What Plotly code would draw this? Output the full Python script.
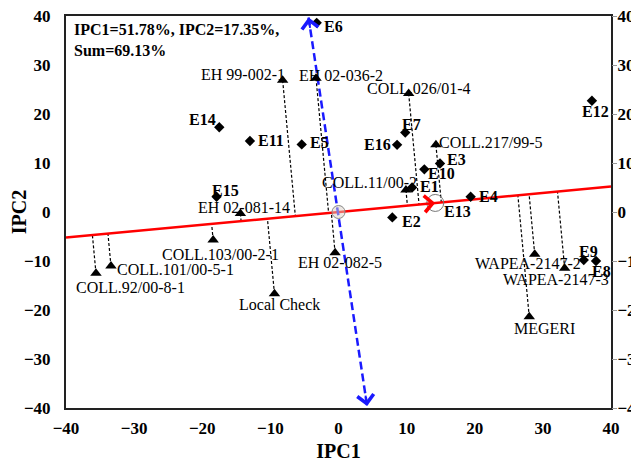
import plotly.graph_objects as go

# ---------------- data ----------------
env_names = ["E1", "E2", "E3", "E4", "E5", "E6", "E7", "E8", "E9", "E10",
             "E11", "E12", "E14", "E15", "E16"]
env_x = [10.8, 7.9, 14.9, 19.4, -5.4, -3.2, 9.8, 37.8, 36.0, 12.6,
         -13.0, 37.2, -17.5, -17.9, 8.6]
env_y = [5.0, -1.1, 9.9, 3.1, 13.8, 38.6, 16.2, -10.0, -9.8, 8.7,
         14.5, 22.7, 17.3, 3.1, 13.7]

ideal_env_name = "E13"
ideal_env_x = 14.2
ideal_env_y = 1.85

gen_names = ["EH 99-002-1", "EH 02-036-2", "COLL.026/01-4", "COLL.217/99-5",
             "COLL.11/00-2", "EH 02-081-14", "COLL.103/00-2-1", "COLL.101/00-5-1",
             "COLL.92/00-8-1", "Local Check", "EH 02-082-5", "WAPEA-2147-2",
             "WAPEA-2147-3", "MEGERI"]
gen_x = [-8.2, -3.3, 10.3, 14.3, 9.9, -14.4, -18.4, -33.4, -35.6, -9.4, -0.5, 28.8, 33.2, 28.0]
gen_y = [26.9, 27.3, 24.2, 13.7, 4.5, -0.3, -5.7, -11.0, -12.5, -16.7, -8.3, -8.6, -11.5, -21.4]

aec_x = [-40, 40]       # average environment coordinate abscissa (red)
aec_y = [-5.2, 5.2]
ord_x = [-4.4, 4.2]     # ordinate (blue dashed)
ord_y = [39.7, -39.6]

axis_ticks = [-40, -30, -20, -10, 0, 10, 20, 30, 40]
summary_text = "IPC1=51.78%, IPC2=17.35%,<br>Sum=69.13%"

# ---------------- layout geometry / styles ----------------
# page body has an 8px default margin, so the figure is made 8px smaller
W, H = 631, 454
ML, MR, MT, MB = 58, 28, 8, 54
PW, PH = W - ML - MR, H - MT - MB
SX, SY = PW / 80.0, PH / 80.0   # px per data unit
SERIF = "Liberation Serif"

env_lbl = {  # (xanchor, dx, dy) in px, dy positive = down
    "E1": ("left", 6, -1), "E2": ("left", 8, 4), "E3": ("left", 5, -4),
    "E4": ("left", 6, 0), "E5": ("left", 6, -2), "E6": ("left", 5, 4),
    "E7": ("center", 6, -8), "E8": ("center", 5, 10), "E9": ("center", 5, -9),
    "E10": ("left", 2, 4), "E11": ("left", 6, 0), "E12": ("center", 4, 11),
    "E14": ("right", -1, -8), "E15": ("center", 9, -6), "E16": ("right", -4, 0),
    "E13": ("left", 7, 9),
}
gen_lbl = {
    "EH 99-002-1": ("right", 4, -6), "EH 02-036-2": ("left", -19, -3),
    "COLL.026/01-4": ("center", 10, -5), "COLL.217/99-5": ("left", 1, -2),
    "COLL.11/00-2": ("center", -36, -7), "EH 02-081-14": ("center", 4, -6),
    "COLL.103/00-2-1": ("center", 7, 15), "COLL.101/00-5-1": ("left", 4, 4),
    "COLL.92/00-8-1": ("center", 35, 14), "Local Check": ("center", 5, 11),
    "EH 02-082-5": ("center", 5, 10), "WAPEA-2147-2": ("center", -7, 9),
    "WAPEA-2147-3": ("center", -9, 11), "MEGERI": ("center", 15, 12),
}

fig = go.Figure()

# projection lines (perpendicular in display space) onto red axis
dx_l = (aec_x[1] - aec_x[0]) * SX
dy_l = (aec_y[1] - aec_y[0]) * SY
nrm = (dx_l ** 2 + dy_l ** 2) ** 0.5
ux, uy = dx_l / nrm, dy_l / nrm
for gx, gy in zip(gen_x, gen_y):
    px = (gx - aec_x[0]) * SX
    py = (gy - aec_y[0]) * SY
    t = px * ux + py * uy
    fx = aec_x[0] + t * ux / SX
    fy = aec_y[0] + t * uy / SY
    fig.add_trace(go.Scatter(x=[gx, fx], y=[gy, fy], mode="lines",
                             line=dict(color="black", width=1.2, dash="3px,2px"),
                             hoverinfo="skip", showlegend=False))

# red AEC line
fig.add_trace(go.Scatter(x=aec_x, y=aec_y, mode="lines",
                         line=dict(color="#ff0000", width=2.5), showlegend=False))
# blue ordinate
fig.add_trace(go.Scatter(x=ord_x, y=ord_y, mode="lines",
                         line=dict(color="#1a1aff", width=2.5, dash="8px,4px"), showlegend=False))

# origin circle and ideal environment circle
fig.add_trace(go.Scatter(x=[0], y=[0], mode="markers",
                         marker=dict(symbol="circle", size=13, color="rgba(220,210,200,0.5)",
                                     line=dict(color="#888888", width=1)), showlegend=False))
fig.add_trace(go.Scatter(x=[ideal_env_x], y=[ideal_env_y], mode="markers",
                         marker=dict(symbol="circle-open", size=17, color="#777777",
                                     line=dict(width=1)), showlegend=False))

# environments
fig.add_trace(go.Scatter(x=env_x, y=env_y, mode="markers",
                         marker=dict(symbol="diamond", size=8, color="black"), showlegend=False))
# genotypes
fig.add_trace(go.Scatter(x=gen_x, y=gen_y, mode="markers",
                         marker=dict(symbol="triangle-up", size=10, color="black"), showlegend=False))

# right axis helper
fig.add_trace(go.Scatter(x=[0], y=[0], yaxis="y2", mode="markers",
                         marker=dict(opacity=0), hoverinfo="skip", showlegend=False))

ann = []
for n, x, y in zip(env_names + [ideal_env_name], env_x + [ideal_env_x], env_y + [ideal_env_y]):
    xa, dx, dy = env_lbl[n]
    ann.append(dict(x=x, y=y, text=n, showarrow=False, xanchor=xa, yanchor="middle",
                    xshift=dx, yshift=-dy,
                    font=dict(family=SERIF, size=16, color="black", weight="bold")))
for n, x, y in zip(gen_names, gen_x, gen_y):
    xa, dx, dy = gen_lbl[n]
    ann.append(dict(x=x, y=y, text=n, showarrow=False, xanchor=xa, yanchor="middle",
                    xshift=dx, yshift=-dy,
                    font=dict(family=SERIF, size=16, color="black")))

# arrow heads
def head(x, y, vx, vy, color):
    return dict(x=x, y=y, ax=vx, ay=vy, axref="pixel", ayref="pixel", text="",
                showarrow=True, arrowhead=4, arrowsize=1.6, arrowwidth=2,
                arrowcolor=color, standoff=0)

# blue direction in px
bdx = (ord_x[1] - ord_x[0]) * SX
bdy = -(ord_y[1] - ord_y[0]) * SY
bn = (bdx ** 2 + bdy ** 2) ** 0.5
ann.append(head(ord_x[0], ord_y[0], bdx / bn * 12, bdy / bn * 12, "#1a1aff"))
ann.append(head(ord_x[1], ord_y[1], -bdx / bn * 12, -bdy / bn * 12, "#1a1aff"))
ann.append(head(ideal_env_x, ideal_env_y, -ux * 12, uy * 12, "#ff0000"))

ann.append(dict(x=0, y=1, xref="paper", yref="paper", xanchor="left", yanchor="top",
                xshift=6, yshift=-3, text=summary_text, showarrow=False, align="left",
                font=dict(family=SERIF, size=16, color="black", weight="bold")))

tickfont = dict(family=SERIF, size=17, color="black", weight="bold")
titlefont = dict(family=SERIF, size=20, color="black", weight="bold")
fig.update_layout(
    width=W, height=H, margin=dict(l=ML, r=MR, t=MT, b=MB, autoexpand=False),
    paper_bgcolor="white", plot_bgcolor="white",
    annotations=ann,
    xaxis=dict(range=[-40, 40], tickvals=axis_ticks, showgrid=False, zeroline=False,
               showline=True, mirror=True, linecolor="#222222", linewidth=2,
               ticks="", tickfont=tickfont, automargin=False, ticklabelstandoff=4,
               ticklabeloverflow="allow",
               title=dict(text="IPC1", font=titlefont, standoff=7)),
    yaxis=dict(range=[-40, 40], tickvals=axis_ticks, showgrid=False, zeroline=False,
               showline=True, mirror=True, linecolor="#222222", linewidth=2,
               ticks="", tickfont=tickfont, automargin=False, ticklabelstandoff=10,
               ticklabeloverflow="allow",
               title=dict(text="IPC2", font=titlefont, standoff=6)),
    yaxis2=dict(range=[-40, 40], tickvals=axis_ticks, overlaying="y", side="right",
                showgrid=False, zeroline=False, showline=False, ticks="outside",
                ticklen=5, tickcolor="#999999", tickfont=tickfont, automargin=False,
                ticklabelstandoff=-3, ticklabeloverflow="allow"),
)

fig.write_html("out.html")
